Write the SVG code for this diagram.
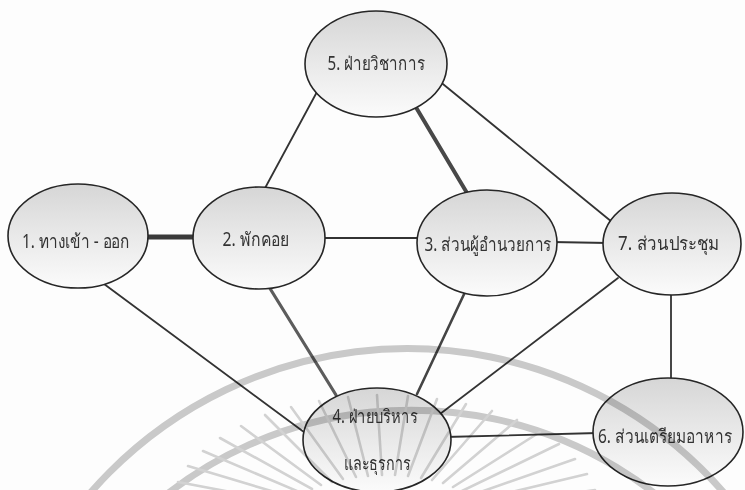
<svg xmlns="http://www.w3.org/2000/svg" width="745" height="490" viewBox="0 0 745 490">
<defs>
<linearGradient id="g" x1="0" y1="0" x2="0" y2="1">
<stop offset="0" stop-color="#d6d6d6"/>
<stop offset="0.5" stop-color="#e9e9e9"/>
<stop offset="1" stop-color="#fbfbfb"/>
</linearGradient>
</defs>
<style>
.n ellipse{fill:url(#g);stroke:#262626;stroke-width:1.6}
.n text{font-family:"Noto Sans","DejaVu Sans",sans-serif;font-size:19px;fill:#333;text-anchor:middle}
.c line{stroke:#333;stroke-width:1.8;stroke-linecap:round}
.c .thick{stroke:#3a3a3a;stroke-width:5}
.c .mid{stroke:#484848;stroke-width:4}
.c .gray{stroke:#5c5c5c;stroke-width:3.2}
.c .g2{stroke:#444;stroke-width:2.6}
.wm{mix-blend-mode:multiply}
.wm path{fill:none;stroke:#cbcbcb;stroke-width:7}
.wm line{stroke:#d4d4d4;stroke-width:2.6;stroke-linecap:round}
</style>
<rect width="745" height="490" fill="#fdfdfd"/>
<g class="c" id="connectors">
<line class="thick" x1="140" y1="237" x2="200" y2="237"/>
<line x1="264" y1="190" x2="318" y2="90"/>
<line class="mid" x1="414" y1="104" x2="470" y2="198"/>
<line x1="438" y1="80" x2="612" y2="222"/>
<line x1="320" y1="238" x2="422" y2="238"/>
<line x1="552" y1="242" x2="608" y2="243"/>
<line x1="100" y1="281" x2="312" y2="438"/>
<line class="gray" x1="266" y1="282" x2="336" y2="395"/>
<line class="g2" x1="466" y1="290" x2="417" y2="394"/>
<line x1="618" y1="278" x2="440" y2="414"/>
<line x1="671" y1="290" x2="671" y2="384"/>
<line x1="445" y1="437" x2="598" y2="433"/>
</g>
<g class="n" id="n1"><ellipse cx="78" cy="236" rx="70" ry="52"/><text x="76" y="248" textLength="108" lengthAdjust="spacingAndGlyphs">1. ทางเข้า - ออก</text></g>
<g class="n" id="n2"><ellipse cx="259" cy="238" rx="66" ry="51"/><text x="256" y="246" textLength="67" lengthAdjust="spacingAndGlyphs">2. พักคอย</text></g>
<g class="n" id="n5"><ellipse cx="376" cy="64" rx="71" ry="53"/><text x="376" y="70" textLength="97" lengthAdjust="spacingAndGlyphs">5. ฝ่ายวิชาการ</text></g>
<g class="n" id="n3"><ellipse cx="487" cy="243" rx="70" ry="53"/><text x="488" y="251" textLength="127" lengthAdjust="spacingAndGlyphs">3. ส่วนผู้อำนวยการ</text></g>
<g class="n" id="n7"><ellipse cx="672" cy="244" rx="69" ry="51"/><text x="669" y="250" textLength="102" lengthAdjust="spacingAndGlyphs">7. ส่วนประชุม</text></g>
<g class="n" id="n4"><ellipse cx="377" cy="440" rx="74" ry="52"/><text x="375" y="423" textLength="85" lengthAdjust="spacingAndGlyphs">4. ฝ่ายบริหาร</text><text x="377" y="470" textLength="67" lengthAdjust="spacingAndGlyphs">และธุรการ</text></g>
<g class="n" id="n6"><ellipse cx="668" cy="432" rx="75" ry="54"/><text x="665" y="443" textLength="134" lengthAdjust="spacingAndGlyphs">6. ส่วนเตรียมอาหาร</text></g>
<g class="wm" id="watermark">
<path d="M -10 720 A 420 420 0 0 1 800 620"/>
<path d="M 20 740 A 397 397 0 0 1 780 660"/>
<line x1="172" y1="498" x2="291" y2="509"/>
<line x1="178" y1="482" x2="294" y2="504"/>
<line x1="188" y1="466" x2="298" y2="499"/>
<line x1="203" y1="451" x2="304" y2="494"/>
<line x1="220" y1="438" x2="312" y2="489"/>
<line x1="241" y1="426" x2="321" y2="485"/>
<line x1="265" y1="415" x2="332" y2="482"/>
<line x1="291" y1="407" x2="343" y2="479"/>
<line x1="319" y1="401" x2="356" y2="477"/>
<line x1="348" y1="397" x2="368" y2="476"/>
<line x1="377" y1="395" x2="382" y2="475"/>
<line x1="408" y1="396" x2="395" y2="475"/>
<line x1="437" y1="399" x2="408" y2="476"/>
<line x1="466" y1="404" x2="421" y2="478"/>
<line x1="492" y1="411" x2="432" y2="480"/>
<line x1="517" y1="420" x2="443" y2="483"/>
<line x1="540" y1="432" x2="453" y2="487"/>
<line x1="559" y1="444" x2="462" y2="491"/>
<line x1="575" y1="459" x2="469" y2="496"/>
<line x1="587" y1="474" x2="474" y2="501"/>
<line x1="595" y1="490" x2="478" y2="507"/>
</g>
</svg>
